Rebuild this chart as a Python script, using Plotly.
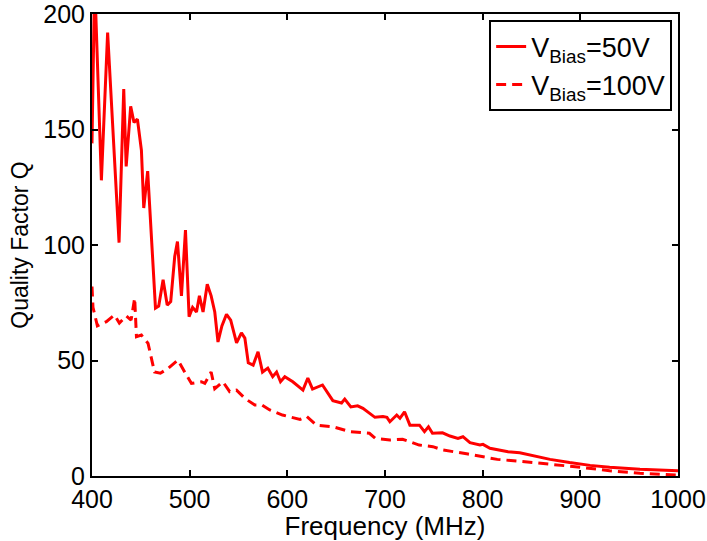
import plotly.graph_objects as go

# V_Bias = 50 V (solid)
freq_50 = [400, 402.7, 409.6, 416, 427.7, 432.5, 435, 439.6, 443, 446.5, 450.6, 453, 457,
           465, 468.3, 472.8, 477, 480.6, 484.7, 487.5, 491.6, 495.7, 499.4, 503, 507, 510,
           513.7, 518, 522, 525.7, 529, 533, 537.7, 542, 548, 553, 556.5, 560, 565, 570,
           574.6, 580, 585, 589, 593, 597.4, 605.6, 612.8, 616, 621, 625.8, 636, 646.6,
           655.5, 658.8, 665, 672, 677.4, 682.5, 689.7, 697.9, 702, 705, 712, 715.3, 720,
           725.5, 735.3, 740.4, 744.5, 748.6, 758.9, 766.5, 774.7, 779.8, 787, 797.2, 800.3,
           807.5, 814.7, 826, 838, 853, 869, 889, 910, 930, 961, 1000]
q_50 = [144, 215, 128, 192, 101, 167.5, 134, 160, 153, 154.5, 141, 116, 132,
        72.7, 73.6, 85, 74, 75.5, 95, 101.5, 78, 106.5, 69, 73, 71, 78,
        71, 83, 78, 71, 58, 65, 70, 67.5, 57.6, 62, 59.7, 49, 48, 53.8,
        45, 46.7, 43, 45, 40.8, 43, 40.8, 38.5, 37.2, 42.4, 37.6, 39.4, 32.6,
        31.6, 33.3, 29.9, 30.4, 29.3, 27.8, 25.4, 25.7, 25.4, 23.5, 26.4, 25, 27.8,
        22, 22, 19.2, 21.3, 18.5, 18.7, 17.3, 16.3, 17, 14.4, 13.4, 13.7,
        12, 11.3, 10.5, 10.1, 8.7, 7.2, 5.8, 4.6, 3.8, 2.9, 2.3]

# V_Bias = 100 V (dashed)
freq_100 = [400, 401, 405.5, 414.7, 423, 428, 435, 440, 443.7, 445.5, 450.6, 457.4, 464,
            470, 478, 488, 496.7, 501.8, 512, 515.5, 522, 525.7, 534, 541, 548, 556.5,
            566.7, 574, 582, 595, 613, 620, 630, 646.6, 664, 684, 690, 705, 718, 735,
            749, 759, 785, 815, 838, 869, 900, 930, 961, 1000]
q_100 = [82, 73, 65, 66.8, 69.7, 66.2, 69.3, 67.5, 77, 60.3, 61, 57.4, 45,
         44.5, 46.6, 50.2, 43.7, 40.1, 40.8, 40.1, 45, 37.8, 40.8, 36.5, 37.2, 33.6,
         30.7, 30.7, 28.6, 26.4, 24.5, 25.7, 22, 21.3, 19.2, 18.5, 16.3, 15.6, 15.9, 13.4,
         12.7, 11.3, 9.5, 7.2, 6.4, 5.2, 3.8, 2.3, 1.2, 0.4]

x_ticks = [400, 500, 600, 700, 800, 900, 1000]
y_ticks = [0, 50, 100, 150, 200]

FONT = "Liberation Sans, Arial, sans-serif"

fig = go.Figure()
fig.add_trace(go.Scatter(x=freq_50, y=q_50, mode="lines",
                         name="V<sub>Bias</sub>=50V",
                         line=dict(color="#ff0000", width=3)))
fig.add_trace(go.Scatter(x=freq_100, y=q_100, mode="lines",
                         name="V<sub>Bias</sub>=100V",
                         line=dict(color="#ff0000", width=3, dash="10px,6px")))

axis_common = dict(showline=True, linecolor="black", linewidth=2, mirror="ticks",
                   ticks="inside", ticklen=6, tickwidth=2, tickcolor="black",
                   showgrid=False, zeroline=False, automargin=True,
                   ticklabeloverflow="allow",
                   tickfont=dict(family=FONT, size=25, color="black"))

fig.update_xaxes(range=[400, 1000], tickvals=x_ticks,
                 title=dict(text="Frequency (MHz)", font=dict(family=FONT, size=26, color="black"),
                            standoff=0),
                 **axis_common)
fig.update_yaxes(range=[0, 200], tickvals=y_ticks,
                 title=dict(text="Quality Factor Q", font=dict(family=FONT, size=23, color="black"),
                            standoff=8),
                 **axis_common)

fig.update_layout(
    width=707, height=541,
    margin=dict(l=92, r=29, t=14, b=65, autoexpand=False),
    paper_bgcolor="white", plot_bgcolor="white",
    font=dict(family=FONT, size=25, color="black"),
    showlegend=True,
    legend=dict(x=0.99, y=0.986, xanchor="right", yanchor="top",
                bgcolor="white", bordercolor="black", borderwidth=2,
                font=dict(family=FONT, size=27, color="black"),
                tracegroupgap=0),
)

fig.write_html("out.html")
